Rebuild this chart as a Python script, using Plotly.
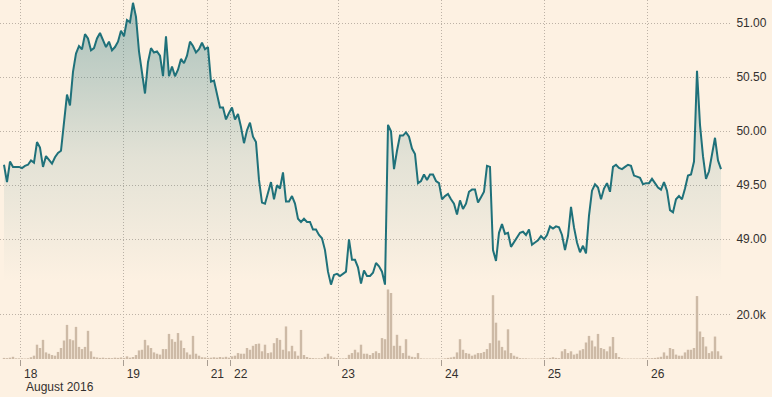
import plotly.graph_objects as go

# Brent-style intraday price (one value per time slot) and traded volume
price = [
    49.69, 49.53, 49.72, 49.67, 49.67, 49.67, 49.66, 49.68, 49.69, 49.73,
    49.71, 49.90, 49.85, 49.67, 49.77, 49.74, 49.70, 49.76, 49.80, 49.82,
    50.07, 50.34, 50.24, 50.55, 50.72, 50.79, 50.76, 50.90, 50.86, 50.75,
    50.77, 50.86, 50.91, 50.84, 50.78, 50.83, 50.75, 50.78, 50.83, 50.93,
    50.88, 51.03, 51.01, 51.19, 51.06, 50.74, 50.55, 50.35, 50.64, 50.77,
    50.73, 50.74, 50.70, 50.51, 50.88, 50.51, 50.60, 50.51, 50.57, 50.67,
    50.63, 50.70, 50.83, 50.79, 50.73, 50.76, 50.82, 50.76, 50.78, 50.46,
    50.47, 50.34, 50.22, 50.22, 50.11, 50.17, 50.22, 50.11, 50.16, 50.04,
    49.89, 50.01, 50.08, 49.95, 49.90, 49.55, 49.34, 49.33, 49.43, 49.53,
    49.37, 49.50, 49.47, 49.62, 49.35, 49.35, 49.40, 49.33, 49.19, 49.16,
    49.19, 49.16, 49.16, 49.09, 49.09, 49.04, 49.01, 48.90, 48.70, 48.58,
    48.67, 48.68, 48.66, 48.68, 48.70, 49.00, 48.81, 48.81, 48.74, 48.59,
    48.71, 48.66, 48.66, 48.69, 48.78, 48.75, 48.70, 48.58, 50.06, 50.00,
    49.65, 49.82, 49.96, 49.96, 49.99, 49.95, 49.84, 49.79, 49.52, 49.54,
    49.60, 49.55, 49.60, 49.60, 49.54, 49.52, 49.37, 49.40, 49.42, 49.37,
    49.33, 49.23, 49.36, 49.28, 49.33, 49.44, 49.46, 49.46, 49.34, 49.39,
    49.44, 49.68, 49.67, 48.90, 48.80, 49.06, 49.14, 49.05, 49.06, 48.93,
    48.97, 49.01, 49.06, 49.07, 49.04, 49.09, 48.95, 48.97, 48.99, 49.03,
    49.00, 49.04, 49.12, 49.10, 49.12, 49.11, 49.04, 48.90, 49.03, 49.30,
    49.11, 48.97, 48.88, 48.94, 48.87, 49.22, 49.45, 49.51, 49.48, 49.37,
    49.47, 49.52, 49.44, 49.67, 49.69, 49.66, 49.65, 49.67, 49.69, 49.68,
    49.59, 49.58, 49.57, 49.51, 49.52, 49.52, 49.56, 49.52, 49.48, 49.46,
    49.53, 49.45, 49.27, 49.25, 49.37, 49.40, 49.37, 49.47, 49.59, 49.60,
    49.72, 50.56, 50.06, 49.77, 49.56, 49.63, 49.77, 49.94, 49.73, 49.65,
]

volume = [
    500, 400, 600, 1000, 300, 300, 300, 200, 300, 800,
    1500, 6500, 5000, 8700, 3000, 2400, 1800, 1500, 3200, 5000,
    8400, 15500, 9000, 8500, 14600, 5500, 4500, 5500, 12800, 3500,
    1000, 700, 500, 600, 400, 500, 400, 600, 500, 700,
    500, 1200, 600, 900, 1800, 3900, 4200, 8700, 6200, 5000,
    3000, 2400, 2000, 4500, 4500, 11400, 9000, 7800, 11800, 8400,
    5000, 3000, 2000, 10500, 2400, 1500, 800, 700, 500, 600,
    800, 600, 900, 700, 1000, 600, 1200, 1500, 2700, 2400,
    2400, 5000, 4200, 6000, 6800, 7000, 3500, 6500, 2700, 3000,
    7200, 9500, 8700, 4200, 14800, 3500, 6000, 3500, 1500, 13200,
    1800, 900, 500, 400, 300, 300, 400, 1000, 2400, 1200,
    600, 400, 300, 300, 400, 1900, 2700, 4200, 3000, 6500,
    2400, 2400, 1800, 2700, 3500, 2700, 9500, 9000, 31600, 30000,
    6000, 11000, 6000, 2700, 9000, 1500, 1000, 800, 2700, 300,
    200, 200, 200, 200, 200, 200, 200, 300, 500, 700,
    1000, 3000, 9000, 4200, 2700, 2400, 1500, 2000, 2700, 2700,
    3200, 4500, 7200, 29000, 16500, 8400, 5500, 3900, 13500, 2700,
    1500, 1000, 400, 300, 300, 200, 200, 200, 200, 300,
    400, 300, 500, 800, 500, 400, 3500, 4500, 2700, 3500,
    2000, 2400, 3900, 4500, 7500, 10500, 8400, 5700, 11400, 5000,
    4500, 3500, 5700, 10000, 2700, 900, 300, 200, 200, 200,
    200, 200, 200, 300, 300, 300, 400, 500, 700, 1000,
    3000, 1500, 5000, 4500, 2000, 1500, 1500, 3000, 4200, 4200,
    5000, 28600, 12500, 10000, 5700, 2700, 3500, 10200, 3500, 1500,
]

day_labels = ["18", "19", "21", "22", "23", "24", "25", "26"]
day_slots = [5.57, 39.77, 67.77, 75.57, 111.43, 145.9, 180.1, 214.57]  # slot index at midnight
price_ticks = [49.0, 49.5, 50.0, 50.5, 51.0]
vol_ticks = [20000]
vol_tick_text = ["20.0k"]
month_label = "August 2016"

slots_p = list(range(len(price)))
slots_v = list(range(len(volume)))

BG = "#fdf1e2"
LINE = "#1f717a"
GRID = "#bdb2a6"
TXT = "#33302e"
FONT = "Liberation Sans, Arial, sans-serif"

fig = go.Figure()

fig.add_trace(go.Bar(
    x=slots_v, y=volume, yaxis="y2",
    marker=dict(color="#cdbaa6", line=dict(width=0)),
    hoverinfo="skip", showlegend=False,
))

fig.add_trace(go.Scatter(
    x=slots_p, y=price, mode="lines",
    line=dict(color=LINE, width=2),
    fill="tozeroy",
    fillgradient=dict(
        type="vertical", start=48.6, stop=51.2,
        colorscale=[[0, "rgba(31,113,122,0)"], [0.45, "rgba(31,113,122,0.12)"],
                    [1, "rgba(31,113,122,0.38)"]],
    ),
    hoverinfo="skip", showlegend=False,
))

fig.update_layout(
    width=772, height=397,
    margin=dict(l=0, r=42, t=0, b=38),
    paper_bgcolor=BG, plot_bgcolor=BG,
    bargap=0.2,
    font=dict(family=FONT, size=12, color=TXT),
    xaxis=dict(
        range=[-1.33, 242], anchor="y2",
        tickvals=day_slots, ticktext=day_labels,
        ticks="outside", ticklen=6, tickwidth=1, tickcolor="#a89d92",
        ticklabelshift=10, ticklabelstandoff=-2,
        showgrid=True, gridcolor=GRID, gridwidth=1, griddash="1px,2px",
        showline=False, zeroline=False,
        tickfont=dict(family=FONT, size=12, color=TXT),
    ),
    yaxis=dict(
        domain=[0.2006, 1], range=[48.5583, 51.2157], side="right", anchor="x",
        tickvals=price_ticks, tickformat=".2f",
        ticks="outside", ticklen=3, tickcolor="rgba(0,0,0,0)",
        showgrid=True, gridcolor=GRID, gridwidth=1, griddash="1px,2px",
        showline=False, zeroline=False,
        tickfont=dict(family=FONT, size=12, color=TXT),
    ),
    yaxis2=dict(
        domain=[0, 0.2006], range=[0, 32727], side="right", anchor="x",
        tickvals=vol_ticks, ticktext=vol_tick_text,
        ticks="outside", ticklen=3, tickcolor="rgba(0,0,0,0)",
        showgrid=True, gridcolor=GRID, gridwidth=1, griddash="1px,2px",
        showline=False, zeroline=False,
        tickfont=dict(family=FONT, size=12, color=TXT),
    ),
    annotations=[dict(
        text=month_label, xref="x", x=day_slots[0], xanchor="left", xshift=3,
        yref="paper", y=0, yanchor="middle", yshift=-28, showarrow=False,
        font=dict(family=FONT, size=12, color=TXT),
    )],
)

fig.write_html(
    "out.html",
    config={"displayModeBar": False, "staticPlot": True},
    post_script="document.body.style.margin='0px';document.body.style.padding='0px';",
)
